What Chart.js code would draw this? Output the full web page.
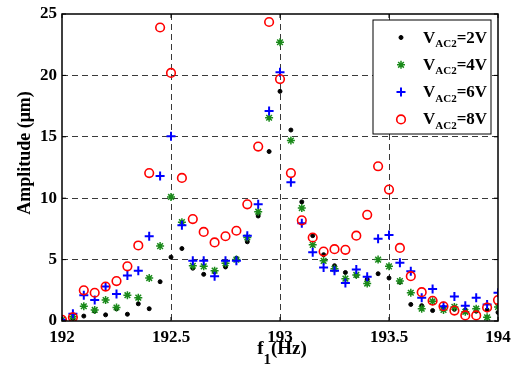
<!DOCTYPE html>
<html>
<head>
<meta charset="utf-8">
<script src="https://cdn.jsdelivr.net/npm/chart.js@4.4.0/dist/chart.umd.min.js"></script>
<style>
  html, body { margin: 0; padding: 0; background: #fff; }
</style>
</head>
<body>
<canvas id="chart" width="513" height="374"></canvas>
<script>
// f1 (Hz)
const freq = [192.00, 192.05, 192.10, 192.15, 192.20, 192.25, 192.30, 192.35, 192.40, 192.45,
              192.50, 192.55, 192.60, 192.65, 192.70, 192.75, 192.80, 192.85, 192.90, 192.95,
              193.00, 193.05, 193.10, 193.15, 193.20, 193.25, 193.30, 193.35, 193.40, 193.45,
              193.50, 193.55, 193.60, 193.65, 193.70, 193.75, 193.80, 193.85, 193.90, 193.95,
              194.00]

// amplitude (um) for each V_AC2
const amp2V = [0.05, 0.2, 0.4, 0.8, 0.5, 1.0, 0.55, 1.4, 1.0, 3.2,
               5.2, 5.9, 4.3, 3.8, 4.0, 4.4, 5.1, 6.45, 8.55, 13.8,
               18.7, 15.55, 9.7, 6.95, 5.4, 4.5, 3.95, 3.7, 3.4, 3.85,
               3.5, 3.15, 1.35, 1.25, 0.85, 1.1, 0.95, 0.9, 0.8, 0.9,
               0.7]
const amp4V = [0.1, 0.35, 1.2, 0.9, 1.7, 1.1, 2.1, 1.9, 3.5, 6.1,
               10.1, 8.05, 4.5, 4.45, 4.1, 4.7, 5.0, 6.8, 8.9, 16.55,
               22.7, 14.7, 9.2, 6.2, 4.9, 4.25, 3.45, 3.75, 3.05, 5.0,
               4.45, 3.25, 2.3, 1.0, 1.6, 0.9, 1.15, 0.75, 1.0, 0.3,
               1.15]
const amp6V = [0.1, 0.6, 2.1, 1.7, 2.8, 2.2, 3.7, 4.1, 6.9, 11.8,
               15.05, 7.8, 4.9, 4.9, 3.65, 4.9, 4.9, 6.95, 9.5, 17.1,
               20.25, 11.3, 7.95, 5.6, 4.35, 4.1, 3.1, 4.2, 3.6, 6.7,
               7.0, 4.75, 4.05, 1.9, 2.6, 1.2, 2.0, 1.25, 1.9, 1.35,
               2.3]
const amp8V = [0.1, 0.3, 2.5, 2.3, 2.8, 3.25, 4.45, 6.15, 12.05, 23.9,
               20.2, 11.65, 8.3, 7.25, 6.4, 6.9, 7.35, 9.5, 14.2, 24.35,
               19.7, 12.05, 8.2, 6.8, 5.65, 5.85, 5.8, 6.95, 8.65, 12.6,
               10.7, 5.95, 3.65, 2.35, 1.65, 1.2, 0.85, 0.45, 0.45, 1.1,
               1.7]

const seriesNames = ['2V', '4V', '6V', '8V']
const xTicks = [192, 192.5, 193, 193.5, 194]
const yTicks = [0, 5, 10, 15, 20, 25]

const serif = "'Liberation Serif', 'Times New Roman', serif"
const green = '#1a8a1a'

const toPoints = (ys) => freq.map((f, i) => ({ x: f, y: ys[i] }))

const datasets = [
    {
        label: seriesNames[0],
        data: toPoints(amp2V),
        pointStyle: 'circle',
        pointRadius: 2,
        borderWidth: 1,
        borderColor: '#000',
        backgroundColor: '#000',
        order: 3
    },
    {
        label: seriesNames[1],
        data: toPoints(amp4V),
        pointStyle: 'star',
        pointRadius: 4,
        borderWidth: 1.5,
        borderColor: green,
        backgroundColor: green,
        order: 2
    },
    {
        label: seriesNames[2],
        data: toPoints(amp6V),
        pointStyle: 'cross',
        pointRadius: 4.5,
        borderWidth: 2,
        borderColor: '#0000ff',
        backgroundColor: '#0000ff',
        order: 1
    },
    {
        label: seriesNames[3],
        data: toPoints(amp8V),
        pointStyle: 'circle',
        pointRadius: 4.3,
        borderWidth: 1.6,
        borderColor: '#ff0000',
        backgroundColor: 'rgba(0,0,0,0)',
        order: 0
    }
]

// box, inward ticks, axis titles and legend (MATLAB look)
const framePlugin = {
    id: 'frame',
    afterDraw(chart) {
        const { ctx, chartArea: a, scales: { x, y } } = chart
        ctx.save()

        ctx.strokeStyle = '#000'
        ctx.lineWidth = 1.5
        ctx.strokeRect(a.left, a.top, a.right - a.left, a.bottom - a.top)

        ctx.lineWidth = 1
        ctx.beginPath()
        xTicks.forEach(v => {
            const px = x.getPixelForValue(v)
            ctx.moveTo(px, a.bottom); ctx.lineTo(px, a.bottom - 4)
            ctx.moveTo(px, a.top); ctx.lineTo(px, a.top + 4)
        })
        yTicks.forEach(v => {
            const py = y.getPixelForValue(v)
            ctx.moveTo(a.left, py); ctx.lineTo(a.left + 4, py)
            ctx.moveTo(a.right, py); ctx.lineTo(a.right - 4, py)
        })
        ctx.stroke()

        ctx.fillStyle = '#000'
        ctx.textAlign = 'left'
        ctx.textBaseline = 'alphabetic'

        // x title: f1(Hz) with subscript
        const big = `bold 19px ${serif}`
        const sub = `bold 15px ${serif}`
        ctx.font = big
        const wf = ctx.measureText('f').width
        const wHz = ctx.measureText('(Hz)').width
        ctx.font = sub
        const w1 = ctx.measureText('1').width
        let tx = (a.left + a.right) / 2 + 2 - (wf + w1 + wHz) / 2
        const tb = 354
        ctx.font = big
        ctx.fillText('f', tx, tb)
        tx += wf
        ctx.font = sub
        ctx.fillText('1', tx, tb + 10)
        tx += w1
        ctx.font = big
        ctx.fillText('(Hz)', tx, tb)

        // y title
        ctx.save()
        ctx.translate(30, 153)
        ctx.rotate(-Math.PI / 2)
        ctx.textAlign = 'center'
        ctx.font = `bold 18px ${serif}`
        ctx.fillText('Amplitude (\u03bcm)', 0, 0)
        ctx.restore()

        // legend
        const lx = a.right - 125, ly = a.top + 6, lw = 118, lh = 114
        ctx.fillStyle = '#fff'
        ctx.fillRect(lx, ly, lw, lh)
        ctx.strokeStyle = '#000'
        ctx.lineWidth = 1
        ctx.strokeRect(lx, ly, lw, lh)

        datasets.forEach((ds, i) => {
            const cy = ly + 17.5 + i * 27.3
            const mx = lx + 28
            ctx.strokeStyle = ds.borderColor
            ctx.fillStyle = ds.backgroundColor
            ctx.lineWidth = ds.borderWidth
            Chart.helpers.drawPoint(ctx, {
                pointStyle: ds.pointStyle,
                radius: ds.pointRadius,
                rotation: 0,
                borderWidth: ds.borderWidth
            }, mx, cy)

            ctx.fillStyle = '#000'
            let t = lx + 50
            const base = cy + 5
            ctx.font = `bold 17px ${serif}`
            ctx.fillText('V', t, base)
            t += ctx.measureText('V').width
            ctx.font = `bold 11px ${serif}`
            ctx.fillText('AC2', t, base + 4.5)
            t += ctx.measureText('AC2').width
            ctx.font = `bold 17px ${serif}`
            ctx.fillText('=' + ds.label, t, base)
        })

        ctx.restore()
    }
}

const gridColor = (edges) => (c) => edges.includes(c.tick.value) ? 'rgba(0,0,0,0)' : '#3a3a3a'

new Chart(document.getElementById('chart'), {
    type: 'scatter',
    data: { datasets: datasets },
    options: {
        responsive: false,
        animation: false,
        events: [],
        layout: { padding: { top: 14, right: 15, left: 0, bottom: 0 } },
        scales: {
            x: {
                type: 'linear',
                min: 192,
                max: 194,
                afterBuildTicks: (s) => { s.ticks = xTicks.map(v => ({ value: v })) },
                afterFit: (s) => {
                    s.height = 53
                    s.paddingLeft = 0
                    s.paddingRight = 0
                },
                ticks: {
                    color: '#000',
                    padding: 6,
                    maxRotation: 0,
                    font: { family: serif, size: 17, weight: 'bold' },
                    callback: (v) => String(v)
                },
                grid: { color: gridColor([192, 194]), drawTicks: false, lineWidth: 1 },
                border: { display: false, dash: [6, 4] }
            },
            y: {
                min: 0,
                max: 25,
                afterBuildTicks: (s) => { s.ticks = yTicks.map(v => ({ value: v })) },
                afterFit: (s) => {
                    s.width = 62
                    s.paddingTop = 0
                    s.paddingBottom = 0
                },
                ticks: {
                    color: '#000',
                    padding: 5,
                    font: { family: serif, size: 17, weight: 'bold' },
                    callback: (v) => String(v)
                },
                grid: { color: gridColor([0, 25]), drawTicks: false, lineWidth: 1 },
                border: { display: false, dash: [6, 4] }
            }
        },
        plugins: {
            legend: { display: false },
            tooltip: { enabled: false }
        }
    },
    plugins: [framePlugin]
})
</script>
</body>
</html>
